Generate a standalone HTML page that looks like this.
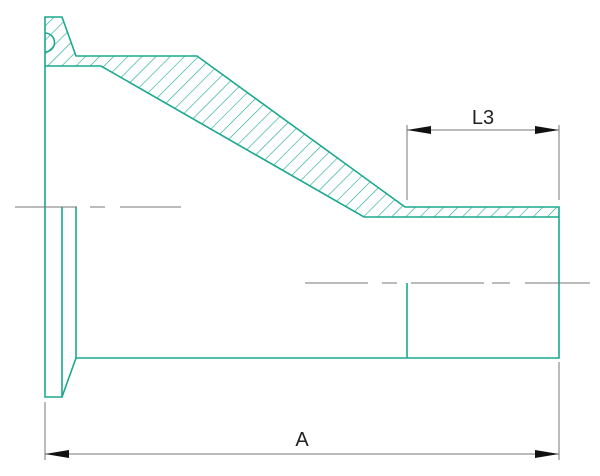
<!DOCTYPE html><html><head><style>body{margin:0;background:#fff}svg{display:block}</style></head><body>
<svg width="600" height="476" viewBox="0 0 600 476" xmlns="http://www.w3.org/2000/svg">
<defs>
<pattern id="h" patternUnits="userSpaceOnUse" width="10" height="10" patternTransform="rotate(45)">
<line x1="0" y1="0" x2="0" y2="10" stroke="#1aa88e" stroke-width="1.2"/>
</pattern>
<clipPath id="c"><path d="M45,17 L62,17 L76,56 L197,56 L405,207 L559,207 L559,217 L364,217 L101,66 L45,66 Z"/></clipPath>
</defs>
<rect x="0" y="0" width="600" height="476" fill="url(#h)" clip-path="url(#c)"/>
<g fill="none" stroke="#1aa88e" stroke-width="1.6">
<path d="M45,17 L62,17 L76,56 L197,56 L405,207 L559,207 L559,358 L76,358 L62,397 L45,397 Z"/>
<path d="M45,66 L101,66 L364,217 L559,217"/>
<path d="M45,33 A9,9 0 0 1 45,52"/>
<line x1="62" y1="207" x2="62" y2="397"/>
<line x1="76" y1="207" x2="76" y2="358"/>
<line x1="407" y1="283" x2="407" y2="358"/>
</g>
<g stroke="#777" stroke-width="1">
<line x1="15" y1="207" x2="77" y2="207"/><line x1="90" y1="207" x2="105" y2="207"/><line x1="120" y1="207" x2="181" y2="207"/>
<line x1="305" y1="283" x2="368" y2="283"/><line x1="382" y1="283" x2="397" y2="283"/><line x1="411" y1="283" x2="484" y2="283"/><line x1="492" y1="283" x2="510" y2="283"/><line x1="525" y1="283" x2="590" y2="283"/>
<line x1="407" y1="125" x2="407" y2="200"/><line x1="559" y1="125" x2="559" y2="200"/>
<line x1="407" y1="130" x2="559" y2="130"/>
<line x1="45" y1="402" x2="45" y2="460"/><line x1="559" y1="362" x2="559" y2="460"/>
<line x1="45" y1="454" x2="559" y2="454"/>
</g>
<g fill="#111">
<path d="M407,130 L431,126 L431,134 Z"/><path d="M559,130 L535,126 L535,134 Z"/>
<path d="M45,454 L69,450 L69,458 Z"/><path d="M559,454 L535,450 L535,458 Z"/>
</g>
<g font-family="Liberation Sans, sans-serif" font-size="20" fill="#222" text-anchor="middle">
<text x="483" y="124">L3</text>
<text x="302" y="446">A</text>
</g>
</svg>
</body></html>
